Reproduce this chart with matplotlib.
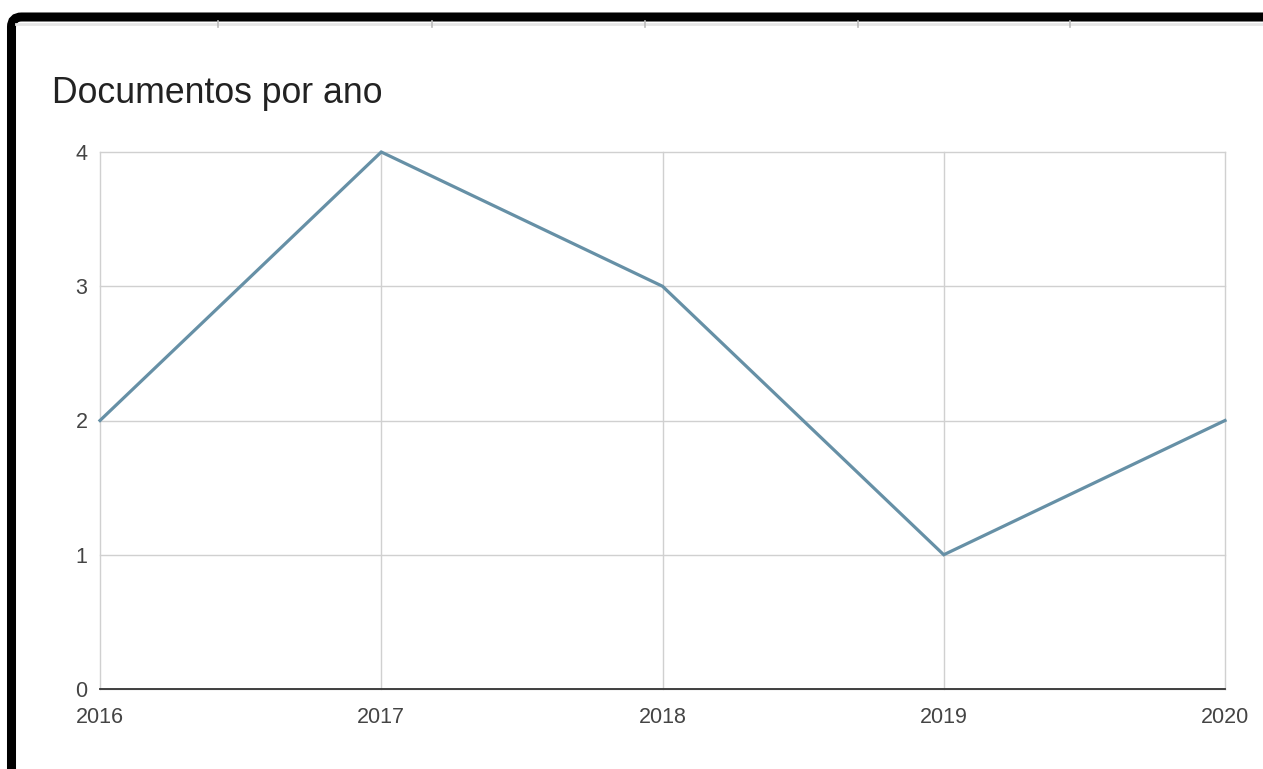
import matplotlib.pyplot as plt
from matplotlib.patches import FancyBboxPatch
from matplotlib.lines import Line2D
from matplotlib.transforms import IdentityTransform

# data
anos = [2016, 2017, 2018, 2019, 2020]
documentos = [2, 4, 3, 1, 2]
y_ticks = [0, 1, 2, 3, 4]

W, H = 1263, 769
plt.rcParams['font.family'] = ['Liberation Sans', 'DejaVu Sans']

fig = plt.figure(figsize=(W / 100, H / 100), dpi=100)
fig.patch.set_facecolor('white')

# plot area
ax = fig.add_axes([100 / W, 80 / H, 1125 / W, 537 / H])
ax.plot(anos, documentos, color='#6690a6', linewidth=2.3, clip_on=False,
        solid_joinstyle='miter', zorder=3)

ax.set_xlim(anos[0], anos[-1])
ax.set_ylim(y_ticks[0], y_ticks[-1])
ax.set_xticks(anos)
ax.set_yticks(y_ticks)
ax.grid(True, color='#d0d0d0', linewidth=1.0)
ax.set_axisbelow(True)
# keep edge gridlines fully visible
for gl in ax.get_xgridlines() + ax.get_ygridlines():
    gl.set_clip_on(False)

for side in ['top', 'right', 'left']:
    ax.spines[side].set_visible(False)
ax.spines['bottom'].set_color('#333333')
ax.spines['bottom'].set_linewidth(1.3)
ax.spines['bottom'].set_zorder(4)

ax.tick_params(axis='x', length=0, pad=13, labelsize=15.5, labelcolor='#444444')
ax.tick_params(axis='y', length=0, pad=9, labelsize=15.5, labelcolor='#444444')

# title
fig.text(52 / W, (H - 103) / H, 'Documentos por ano', fontsize=25.7,
         color='#222222', ha='left', va='baseline')

# screenshot frame (black border with rounded corner)
frame = FancyBboxPatch((11.5, -50), 1400, H - 17 + 50,
                       boxstyle='round,pad=0,rounding_size=10',
                       transform=IdentityTransform(), facecolor='none',
                       edgecolor='black', linewidth=6.5)
fig.add_artist(frame)

# faint spreadsheet separators below the top border
fig.add_artist(Line2D([16, W], [H - 24, H - 24], transform=IdentityTransform(),
                      color='#e6e6e6', linewidth=2))
for xs in [218, 432, 645, 858, 1070]:
    fig.add_artist(Line2D([xs, xs], [H - 27, H - 21], transform=IdentityTransform(),
                          color='#bbbbbb', linewidth=1.2))

fig.savefig('out.png', dpi=100)
